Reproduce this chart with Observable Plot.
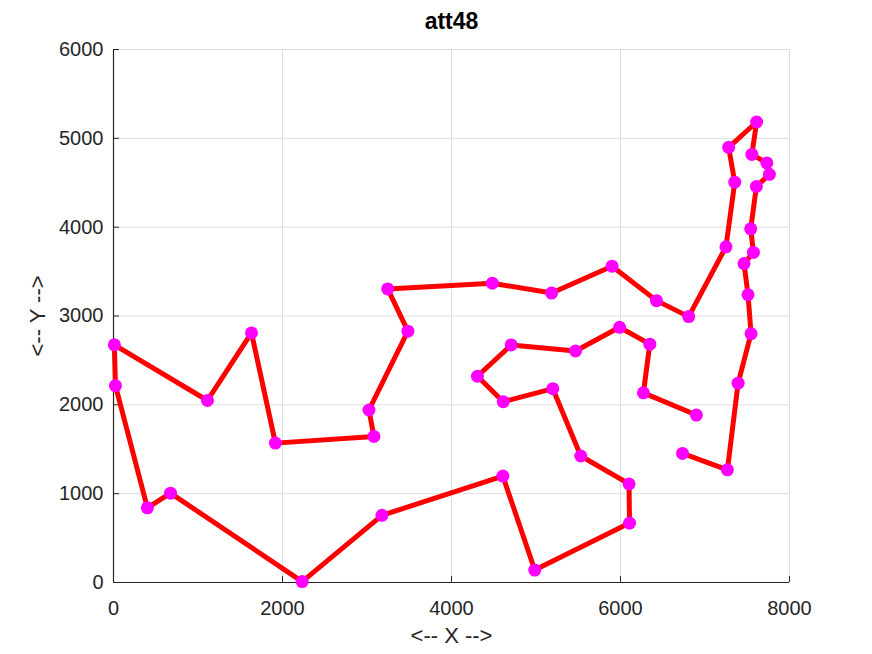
<!DOCTYPE html>
<html>
<head>
<meta charset="utf-8">
<script src="https://cdn.jsdelivr.net/npm/d3@7"></script>
<script src="https://cdn.jsdelivr.net/npm/@observablehq/plot@0.6"></script>
<style>
  html, body { margin: 0; padding: 0; background: #fff; }
</style>
</head>
<body>
<div id="chart"></div>
<script>
// att48 city coordinates (city number = index + 1)
const cityX = [6734, 2233, 5530, 401, 3082, 7608, 7573, 7265, 6898, 1112, 5468, 5989, 4706, 4612, 6347, 6107,
               7611, 7462, 7732, 5900, 4483, 6101, 5199, 1633, 4307, 675, 7555, 7541, 3177, 7352, 7545, 3245,
               6426, 4608, 23, 7248, 7762, 7392, 3484, 6271, 4985, 1916, 7280, 7509, 10, 6807, 5185, 3023];
const cityY = [1453, 10, 1424, 841, 1644, 4458, 3716, 1268, 1885, 2049, 2606, 2873, 2674, 2035, 2683, 669,
               5184, 3590, 4723, 3561, 3369, 1110, 2182, 2809, 2322, 1006, 4819, 3981, 756, 4506, 2801, 3305,
               3173, 1198, 2216, 3779, 4595, 2244, 2829, 2135, 140, 1569, 4899, 3239, 2676, 2993, 3258, 1942];
// visiting order (open path)
const tourOrder = [1, 8, 38, 31, 44, 18, 7, 28, 6, 37, 19, 27, 17, 43, 30, 36, 46, 33, 20, 47, 21, 32, 39, 48,
                   5, 42, 24, 10, 45, 35, 4, 26, 2, 29, 34, 41, 16, 22, 3, 23, 14, 25, 13, 11, 12, 15, 40, 9];
const xTicks = [0, 2000, 4000, 6000, 8000];
const yTicks = [0, 1000, 2000, 3000, 4000, 5000, 6000];
const titleText = "att48";
const xLabel = "<-- X -->";
const yLabel = "<-- Y -->";

const tour = tourOrder.map(c => ({x: cityX[c - 1], y: cityY[c - 1]}));

const axisColor = "#262626";
const gridColor = "#dedede";

const chart = Plot.plot({
  width: 872,
  height: 654,
  marginLeft: 113,
  marginRight: 83,
  marginTop: 49,
  marginBottom: 72,
  x: {domain: [0, 8000]},
  y: {domain: [0, 6000]},
  style: {fontFamily: "'Liberation Sans', Arial, sans-serif", fontSize: "20px", color: axisColor, background: "white"},
  marks: [
    Plot.gridX(xTicks, {stroke: gridColor, strokeOpacity: 1}),
    Plot.gridY(yTicks, {stroke: gridColor, strokeOpacity: 1}),
    Plot.ruleX([0], {stroke: axisColor, strokeWidth: 1.2}),
    Plot.ruleY([0], {stroke: axisColor, strokeWidth: 1.2}),
    Plot.axisX(xTicks, {tickSize: 6, dy: -6, tickFormat: () => "", label: null, stroke: axisColor}),
    Plot.axisX(xTicks, {tickSize: 0, tickPadding: 18, tickFormat: d => String(d), label: null, fill: axisColor}),
    Plot.axisY(yTicks, {tickSize: 6, dx: 6, tickFormat: () => "", label: null, stroke: axisColor}),
    Plot.axisY(yTicks, {tickSize: 0, tickPadding: 10, tickFormat: d => String(d), label: null, fill: axisColor}),
    Plot.line(tour, {x: "x", y: "y", stroke: "#ff0000", strokeWidth: 5}),
    Plot.dot(tour, {x: "x", y: "y", r: 6.5, fill: "#ff00ff", stroke: "none"}),
    Plot.text([titleText], {frameAnchor: "top", lineAnchor: "top", dy: -37, fontWeight: "bold", fontSize: 23, fill: "#000"}),
    Plot.text([xLabel], {frameAnchor: "bottom", lineAnchor: "bottom", dy: 60, fontSize: 22, fill: axisColor}),
    Plot.text([yLabel], {frameAnchor: "left", textAnchor: "middle", lineAnchor: "middle", dx: -76, rotate: -90, fontSize: 22, fill: axisColor})
  ]
});
document.getElementById("chart").append(chart);
</script>
</body>
</html>
